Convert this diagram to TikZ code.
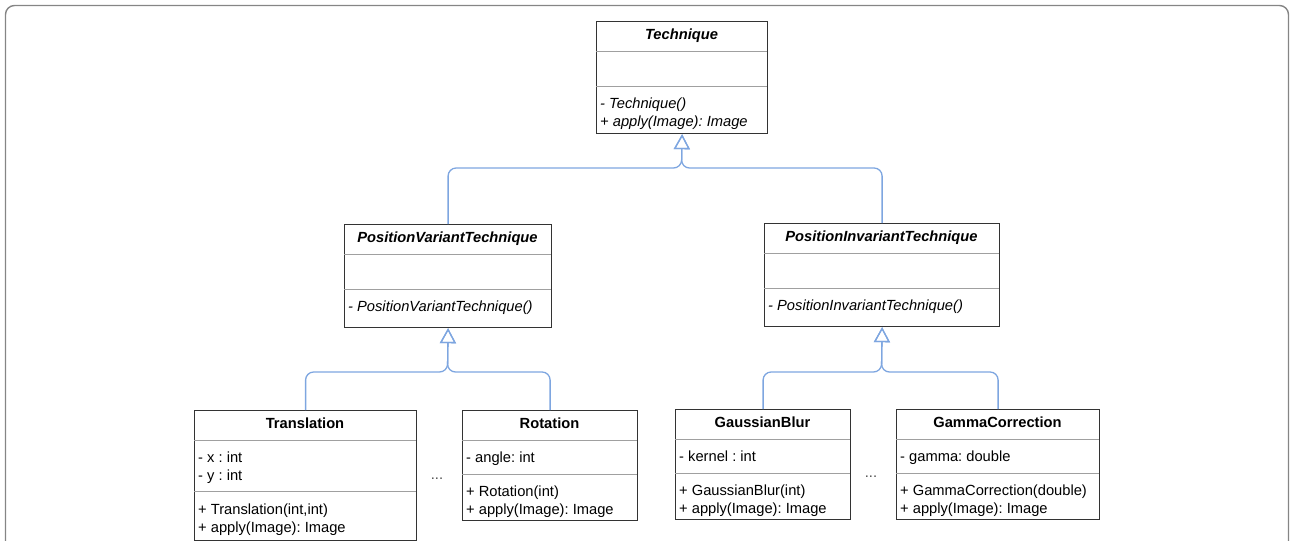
\documentclass[tikz,border=0pt]{standalone}
\usepackage{fontspec}
\setmainfont{Liberation Sans}
\usetikzlibrary{arrows.meta}
\definecolor{linkblue}{HTML}{7EA6E0}
\definecolor{boxline}{HTML}{333333}
\definecolor{divline}{HTML}{A0A0A0}
\definecolor{framegray}{HTML}{858585}
\begin{document}
\frenchspacing
\begin{tikzpicture}[x=1pt,y=-1pt,
  every node/.style={font=\fontsize{14.7}{18}\selectfont},
  cls/.style={draw=boxline, line width=1.2pt, fill=white, inner sep=0pt, anchor=north west},
  div/.style={draw=divline, line width=0.9pt},
  ctitle/.style={inner sep=0pt, text height=13pt, text depth=2pt, font=\fontsize{14.7}{18}\selectfont\bfseries},
  atitle/.style={ctitle, font=\fontsize{14.7}{18}\selectfont\bfseries\itshape},
  member/.style={anchor=west, inner sep=0pt, text height=13pt, text depth=2pt},
  amember/.style={member, font=\fontsize{14.7}{18}\selectfont\itshape},
  ellip/.style={inner sep=0pt, text=black!70},
  inh/.style={draw=linkblue, line width=1.3pt, rounded corners=8pt,
    -{Triangle[open, length=15pt, width=16pt, line width=1.3pt]}},
  frame/.style={draw=framegray, line width=1.4pt, rounded corners=9pt}]
\useasboundingbox (0,0) rectangle (1291,541);
\clip (0,0) rectangle (1291,541);
\draw[frame] (5.5,5.5) rectangle (1288.5,600);

% Technique
\node[cls, minimum width=171pt, minimum height=112pt] (tech) at (596,21) {};
\draw[div] (596,51) -- (767,51);
\draw[div] (596,86) -- (767,86);
\node[atitle] (techT) at (681.5,34) {Technique};
\node[amember] (techM1) at (600,103) {- Technique()};
\node[amember] (techM2) at (600,121) {+ apply(Image): Image};

% PositionVariantTechnique
\node[cls, minimum width=207pt, minimum height=103pt] (pvt) at (344,224) {};
\draw[div] (344,254) -- (551,254);
\draw[div] (344,289) -- (551,289);
\node[atitle] (pvtT) at (447.5,237) {PositionVariantTechnique};
\node[amember] (pvtM1) at (348,306) {- PositionVariantTechnique()};

% PositionInvariantTechnique
\node[cls, minimum width=235pt, minimum height=103pt] (pit) at (764,223) {};
\draw[div] (764,253) -- (999,253);
\draw[div] (764,288) -- (999,288);
\node[atitle] (pitT) at (881.5,236) {PositionInvariantTechnique};
\node[amember] (pitM1) at (768,305) {- PositionInvariantTechnique()};

% Translation
\node[cls, minimum width=222pt, minimum height=130pt] (trans) at (194,410) {};
\draw[div] (194,440) -- (416,440);
\draw[div] (194,491) -- (416,491);
\node[ctitle] (transT) at (305,423) {Translation};
\node[member] (transA1) at (198,457) {- x : int};
\node[member] (transA2) at (198,475) {- y : int};
\node[member] (transM1) at (198,509) {+ Translation(int,int)};
\node[member] (transM2) at (198,527) {+ apply(Image): Image};

% Rotation
\node[cls, minimum width=175pt, minimum height=110pt] (rot) at (462,410) {};
\draw[div] (462,440) -- (637,440);
\draw[div] (462,474) -- (637,474);
\node[ctitle] (rotT) at (549.5,423) {Rotation};
\node[member] (rotA1) at (466,457) {- angle: int};
\node[member] (rotM1) at (466,491) {+ Rotation(int)};
\node[member] (rotM2) at (466,509) {+ apply(Image): Image};

% GaussianBlur
\node[cls, minimum width=175pt, minimum height=110pt] (gb) at (675,409) {};
\draw[div] (675,439) -- (850,439);
\draw[div] (675,473) -- (850,473);
\node[ctitle] (gbT) at (762.5,422) {GaussianBlur};
\node[member] (gbA1) at (679,456) {- kernel : int};
\node[member] (gbM1) at (679,490) {+ GaussianBlur(int)};
\node[member] (gbM2) at (679,508) {+ apply(Image): Image};

% GammaCorrection
\node[cls, minimum width=203pt, minimum height=110pt] (gc) at (896,409) {};
\draw[div] (896,439) -- (1099,439);
\draw[div] (896,473) -- (1099,473);
\node[ctitle] (gcT) at (997.5,422) {GammaCorrection};
\node[member] (gcA1) at (900,456) {- gamma: double};
\node[member] (gcM1) at (900,490) {+ GammaCorrection(double)};
\node[member] (gcM2) at (900,508) {+ apply(Image): Image};

% further subclasses omitted
\node[ellip] (more1) at (437,479) {...};
\node[ellip] (more2) at (871,477) {...};

% generalisation links
\coordinate (j0) at (681.5,168);
\coordinate (j1) at (447.5,372);
\coordinate (j2) at (881.5,372);
\draw[inh] (pvt.north) |- (j0) -- (tech.south);
\draw[inh] (pit.north) |- (j0) -- (tech.south);
\draw[inh] (trans.north) |- (j1) -- (pvt.south);
\draw[inh] (rot.north) |- (j1) -- (pvt.south);
\draw[inh] (gb.north) |- (j2) -- (pit.south);
\draw[inh] (gc.north) |- (j2) -- (pit.south);
\end{tikzpicture}
\end{document}
